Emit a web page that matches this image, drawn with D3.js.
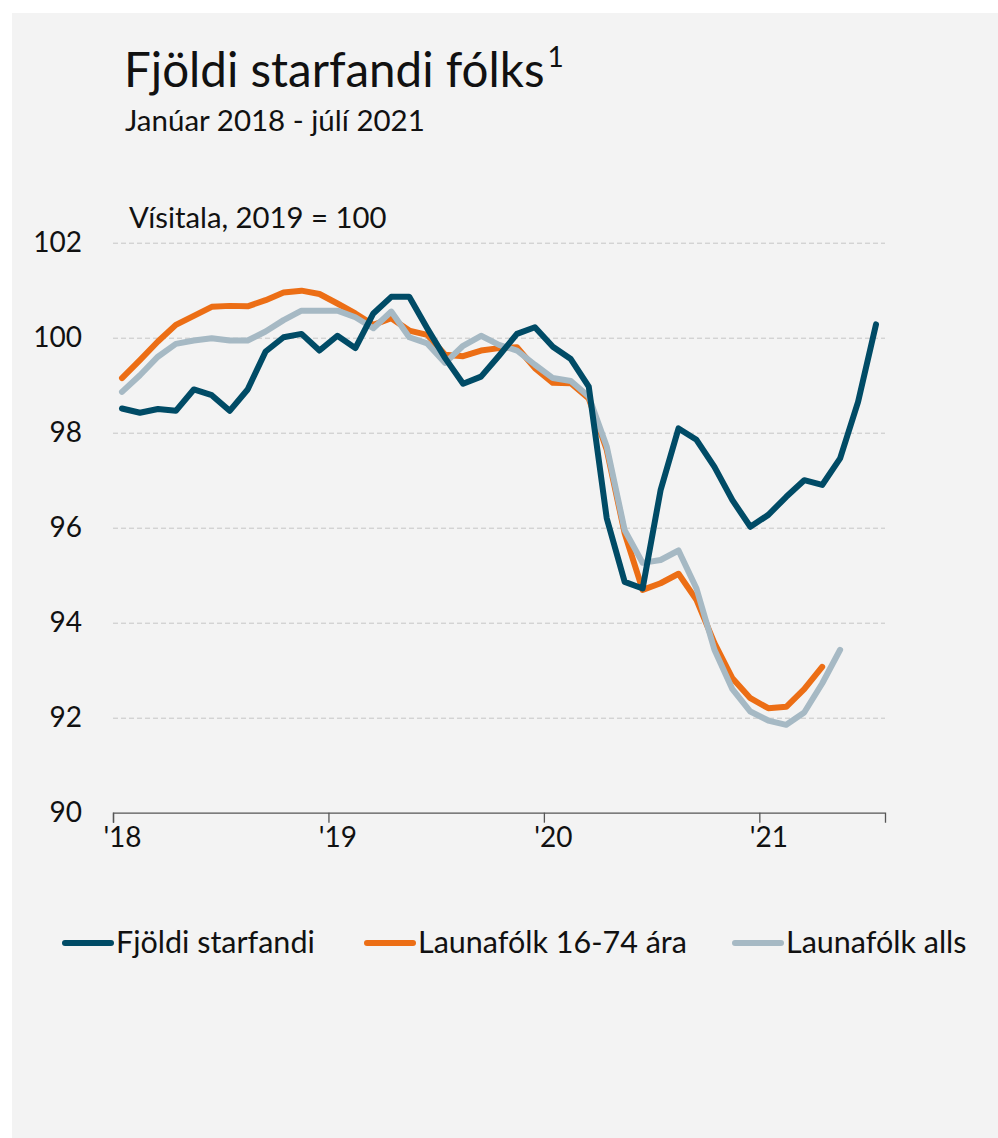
<!DOCTYPE html>
<html>
<head>
<meta charset="utf-8">
<script src="https://cdn.jsdelivr.net/npm/d3@7"></script>
<style>
  body { margin: 0; background: #ffffff; }
  text { font-family: Lato, "Open Sans", sans-serif; fill: #111; }
</style>
</head>
<body>
<div id="chart"></div>
<script>
// data, monthly from jan 2018 to jul 2021
var yearTicks = [0, 12, 24, 36];
var yearLabels = ["'18", "'19", "'20", "'21"];
var yTicks = [90, 92, 94, 96, 98, 100, 102];
var seriesNames = ["Fjöldi starfandi", "Launafólk 16-74 ára", "Launafólk alls"];

var starfandi = [98.51, 98.42, 98.50, 98.46, 98.91, 98.79, 98.46, 98.91, 99.71, 100.01,
                 100.08, 99.73, 100.04, 99.78, 100.51, 100.86, 100.86, 100.20, 99.57, 99.03,
                 99.18, 99.62, 100.08, 100.22, 99.81, 99.55, 98.97, 96.20, 94.86, 94.72,
                 96.79, 98.09, 97.85, 97.28, 96.58, 96.02, 96.27, 96.65, 97.00, 96.90,
                 97.46, 98.65, 100.28];
var launa1674 = [99.15, 99.53, 99.92, 100.27, 100.46, 100.65, 100.67, 100.66, 100.79, 100.95,
                 100.99, 100.92, 100.72, 100.51, 100.27, 100.41, 100.15, 100.06, 99.64, 99.61,
                 99.73, 99.78, 99.80, 99.36, 99.05, 99.04, 98.72, 97.64, 95.88, 94.69,
                 94.83, 95.03, 94.48, 93.57, 92.83, 92.41, 92.20, 92.23, 92.60, 93.07];
var launaAlls = [98.86, 99.21, 99.60, 99.87, 99.94, 99.99, 99.94, 99.94, 100.13, 100.37,
                 100.57, 100.57, 100.57, 100.43, 100.20, 100.55, 100.01, 99.88, 99.47, 99.83,
                 100.04, 99.85, 99.73, 99.43, 99.15, 99.09, 98.76, 97.71, 95.95, 95.26,
                 95.32, 95.52, 94.72, 93.43, 92.60, 92.13, 91.94, 91.85, 92.11, 92.72,
                 93.43];
var nMonths = 43;

var colors = ["#004B66", "#EC6E15", "#A6B9C4"];

var W = 998, H = 1138;
var svg = d3.select("#chart").append("svg")
            .attr("width", W)
            .attr("height", H);

// panel background
svg.append("rect")
   .attr("x", 12).attr("y", 13)
   .attr("width", W - 12).attr("height", H - 13)
   .attr("fill", "#f3f3f3");

// titles
var title = svg.append("text")
   .attr("x", 124).attr("y", 87)
   .attr("font-size", 47.5);
title.append("tspan").text("Fjöldi starfandi fólks");
title.append("tspan").text("1").attr("font-size", 28).attr("dx", 3).attr("dy", -20);

svg.append("text")
   .attr("x", 125).attr("y", 131)
   .attr("font-size", 29.5)
   .text("Janúar 2018 - júlí 2021");

svg.append("text")
   .attr("x", 129).attr("y", 228)
   .attr("font-size", 29.3)
   .text("Vísitala, 2019 = 100");

// scales
var x = d3.scaleLinear().domain([0, nMonths]).range([113, 885]);
var y = d3.scaleLinear().domain([90, 102]).range([812.7, 242.7]);
var halfMonth = (x(1) - x(0)) / 2;

// grid
svg.append("g")
   .attr("transform", "translate(" + x(0) + ",0)")
   .call(d3.axisLeft(y).tickValues(yTicks.slice(1)).tickSize(-(x(nMonths) - x(0))).tickFormat(""))
   .call(function(g){ g.select(".domain").remove(); })
   .selectAll("line")
   .attr("stroke", "#c6c6c6")
   .attr("stroke-dasharray", "5,3");

// y labels
svg.append("g")
   .attr("transform", "translate(82,0)")
   .call(d3.axisLeft(y).tickValues(yTicks).tickSize(0).tickPadding(0))
   .call(function(g){ g.select(".domain").remove(); })
   .selectAll("text")
   .attr("font-size", 28)
   .attr("font-family", "Lato, sans-serif")
   .attr("fill", "#111");

// x axis
var xAxis = svg.append("g")
   .attr("transform", "translate(0," + y(90) + ")")
   .call(d3.axisBottom(x).tickValues(yearTicks).tickSize(10).tickPadding(0)
           .tickFormat(function(d, i){ return yearLabels[i]; }));
xAxis.select(".domain").attr("stroke", "#555").attr("stroke-width", 1.3);
xAxis.selectAll("line").attr("stroke", "#555").attr("stroke-width", 1.3);
xAxis.selectAll("text")
   .attr("x", halfMonth)
   .attr("y", 34)
   .attr("dy", 0)
   .attr("font-size", 28)
   .attr("font-family", "Lato, sans-serif")
   .attr("fill", "#111");

// lines
var line = d3.line()
   .x(function(d, i){ return x(i + 0.5); })
   .y(function(d){ return y(d); });

var allSeries = [launa1674, launaAlls, starfandi];
var allColors = [colors[1], colors[2], colors[0]];
allSeries.forEach(function(s, k){
  svg.append("path")
     .datum(s)
     .attr("d", line)
     .attr("fill", "none")
     .attr("stroke", allColors[k])
     .attr("stroke-width", 6)
     .attr("stroke-linejoin", "round")
     .attr("stroke-linecap", "round");
});

// legend
var legendX = [63, 365, 733];
seriesNames.forEach(function(name, i){
  var g = svg.append("g").attr("transform", "translate(" + legendX[i] + ",943)");
  g.append("line")
   .attr("x1", 2).attr("x2", 48)
   .attr("stroke", colors[i])
   .attr("stroke-width", 6)
   .attr("stroke-linecap", "round");
  g.append("text")
   .attr("x", 53).attr("y", 10)
   .attr("font-size", 30.5)
   .text(name);
});
</script>
</body>
</html>
